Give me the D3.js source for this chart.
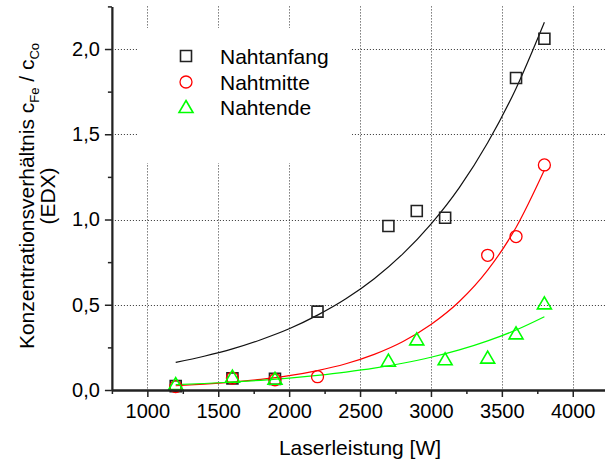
<!DOCTYPE html>
<html>
<head>
<meta charset="utf-8">
<script src="https://cdn.jsdelivr.net/npm/d3@7"></script>
<style>
  body { margin: 0; background: #fff; }
  svg { display: block; }
  text { font-family: Arial, "Liberation Sans", sans-serif; fill: #000; }
</style>
</head>
<body>
<svg id="chart" width="605" height="464"></svg>
<script>
// Measured EDX concentration ratio c_Fe / c_Co versus laser power
const anfangPower = [1200, 1600, 1900, 2200, 2700, 2900, 3100, 3600, 3800];
const anfangRatio = [0.023, 0.068, 0.065, 0.46, 0.962, 1.05, 1.01, 1.83, 2.06];

const mittePower = [1200, 1600, 1900, 2200, 3400, 3600, 3800];
const mitteRatio = [0.02, 0.07, 0.06, 0.078, 0.79, 0.90, 1.32];

const endePower = [1200, 1600, 1900, 2700, 2900, 3100, 3400, 3600, 3800];
const endeRatio = [0.035, 0.078, 0.066, 0.172, 0.297, 0.18, 0.19, 0.332, 0.508];

// Exponential trend lines, sampled along the power axis
const fitPower = [1200, 1400, 1600, 1800, 2000, 2200, 2400, 2600, 2800, 3000, 3200, 3400, 3600, 3800];
const fitAnfang = [0.162, 0.198, 0.241, 0.295, 0.359, 0.439, 0.535, 0.653, 0.797, 0.973, 1.187, 1.45, 1.769, 2.157];
const fitMitte  = [0.025, 0.034, 0.046, 0.062, 0.084, 0.114, 0.154, 0.209, 0.283, 0.384, 0.519, 0.703, 0.953, 1.29];
const fitEnde   = [0.031, 0.038, 0.047, 0.057, 0.070, 0.086, 0.105, 0.128, 0.157, 0.192, 0.235, 0.288, 0.352, 0.430];

const xMajorTicks = [1000, 1500, 2000, 2500, 3000, 3500, 4000];
const xMinorTicks = [750, 1250, 1750, 2250, 2750, 3250, 3750, 4250];
const yMajorTicks = [0, 0.5, 1.0, 1.5, 2.0];
const yMinorTicks = [0.25, 0.75, 1.25, 1.75, 2.25];

const seriesNames = ["Nahtanfang", "Nahtmitte", "Nahtende"];
const seriesColors = ["#222222", "#ff0000", "#00ff00"];

const svg = d3.select("#chart");

const x = d3.scaleLinear().domain([750, 4250]).range([111.9, 608.2]);
const y = d3.scaleLinear().domain([0, 2.25]).range([390, 6.4]);

const fmtY = d3.format(".1f");

// dotted grid
const grid = svg.append("g").attr("stroke", "#333").attr("stroke-width", 1)
  .attr("stroke-dasharray", "1,2");
grid.selectAll("line.v").data(xMajorTicks).join("line")
  .attr("x1", d => Math.round(x(d)) + 0.5).attr("x2", d => Math.round(x(d)) + 0.5)
  .attr("y1", y(2.25)).attr("y2", y(0));
grid.selectAll("line.h").data(yMajorTicks.filter(d => d > 0)).join("line")
  .attr("y1", d => Math.round(y(d)) + 0.5).attr("y2", d => Math.round(y(d)) + 0.5)
  .attr("x1", x(750)).attr("x2", 605);

// legend background hides the grid behind it
svg.append("rect").attr("x", 137).attr("y", 28).attr("width", 215).attr("height", 135)
  .attr("fill", "#fff");

// trend lines
const line = d3.line().x(d => x(d[0])).y(d => y(d[1])).curve(d3.curveMonotoneX);
[fitAnfang, fitMitte, fitEnde].forEach((vals, i) => {
  svg.append("path")
    .datum(fitPower.map((p, k) => [p, vals[k]]))
    .attr("d", line)
    .attr("fill", "none")
    .attr("stroke", i === 0 ? "#111" : seriesColors[i])
    .attr("stroke-width", 1.2);
});

// markers
const squarePath = "M-5.5,-5.5H5.5V5.5H-5.5Z";
const trianglePath = "M0,-6.5L7,5.5H-7Z";

function drawSquares(g, px, py) {
  g.selectAll("path.sq").data(px.map((p, k) => [p, py[k]])).join("path")
    .attr("class", "sq")
    .attr("transform", d => `translate(${x(d[0])},${y(d[1])})`)
    .attr("d", squarePath)
    .attr("fill", "none").attr("stroke", seriesColors[0]).attr("stroke-width", 1.6);
}
function drawCircles(g, px, py) {
  g.selectAll("circle").data(px.map((p, k) => [p, py[k]])).join("circle")
    .attr("cx", d => x(d[0])).attr("cy", d => y(d[1])).attr("r", 6)
    .attr("fill", "none").attr("stroke", seriesColors[1]).attr("stroke-width", 1.3);
}
function drawTriangles(g, px, py) {
  g.selectAll("path.tr").data(px.map((p, k) => [p, py[k]])).join("path")
    .attr("class", "tr")
    .attr("transform", d => `translate(${x(d[0])},${y(d[1])})`)
    .attr("d", trianglePath)
    .attr("fill", "none").attr("stroke", seriesColors[2]).attr("stroke-width", 1.6);
}
drawSquares(svg.append("g"), anfangPower, anfangRatio);
drawCircles(svg.append("g"), mittePower, mitteRatio);
drawTriangles(svg.append("g"), endePower, endeRatio);

// axes
const xAxis = svg.append("g").attr("transform", `translate(0,${y(0)})`)
  .call(d3.axisBottom(x).tickValues(xMajorTicks).tickSize(7).tickSizeOuter(0).tickPadding(7)
    .tickFormat(d3.format("d")));
const xMinor = svg.append("g").attr("transform", `translate(0,${y(0)})`)
  .call(d3.axisBottom(x).tickValues(xMinorTicks).tickSize(4).tickSizeOuter(0).tickFormat(""));
const yAxis = svg.append("g").attr("transform", `translate(${x(750)},0)`)
  .call(d3.axisLeft(y).tickValues(yMajorTicks).tickSize(7).tickSizeOuter(0).tickPadding(5)
    .tickFormat(d => fmtY(d).replace(".", ",")));
const yMinor = svg.append("g").attr("transform", `translate(${x(750)},0)`)
  .call(d3.axisLeft(y).tickValues(yMinorTicks).tickSize(4).tickSizeOuter(0).tickFormat(""));

[xAxis, xMinor, yAxis, yMinor].forEach(g => {
  g.selectAll(".domain").attr("stroke", "#222").attr("stroke-width", 1.8);
  g.selectAll(".tick line").attr("stroke", "#222").attr("stroke-width", 1.5);
  g.selectAll(".tick text").attr("font-size", 20).attr("font-family", "Arial, 'Liberation Sans', sans-serif").attr("fill", "#000");
});

// axis titles
svg.append("text").attr("x", 360).attr("y", 455).attr("text-anchor", "middle")
  .attr("font-size", 21).text("Laserleistung [W]");

const yTitle = svg.append("g").attr("transform", "translate(34,196) rotate(-90)");
const t1 = yTitle.append("text").attr("x", 0).attr("y", 0).attr("text-anchor", "middle").attr("font-size", 21);
t1.append("tspan").text("Konzentrationsverhältnis c");
t1.append("tspan").attr("font-size", 13).attr("dy", 5).text("Fe");
t1.append("tspan").attr("dy", -5).text(" / c");
t1.append("tspan").attr("font-size", 13).attr("dy", 5).text("Co");
yTitle.append("text").attr("x", 0).attr("y", 21).attr("text-anchor", "middle").attr("font-size", 21)
  .text("(EDX)");

// legend
const legendRows = [56, 82, 107];
const lg = svg.append("g");
lg.append("path").attr("transform", `translate(186,${legendRows[0]})`).attr("d", squarePath)
  .attr("fill", "none").attr("stroke", seriesColors[0]).attr("stroke-width", 1.6);
lg.append("circle").attr("cx", 186).attr("cy", legendRows[1]).attr("r", 6)
  .attr("fill", "none").attr("stroke", seriesColors[1]).attr("stroke-width", 1.3);
lg.append("path").attr("transform", `translate(186,${legendRows[2]})`).attr("d", trianglePath)
  .attr("fill", "none").attr("stroke", seriesColors[2]).attr("stroke-width", 1.6);
seriesNames.forEach((n, i) => {
  lg.append("text").attr("x", 220).attr("y", legendRows[i] + 7.5).attr("font-size", 21).text(n);
});
</script>
</body>
</html>
